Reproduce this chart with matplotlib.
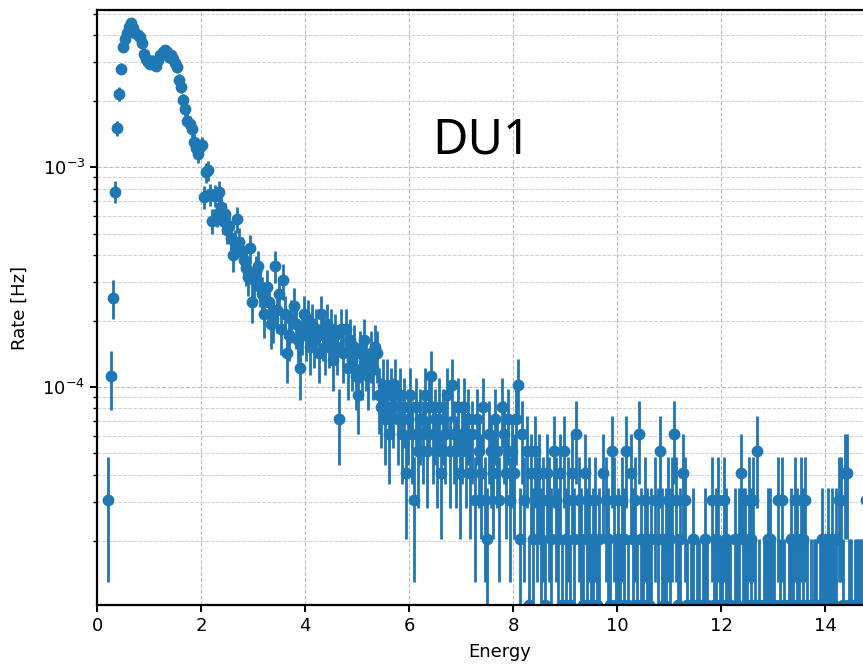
import numpy as np
import matplotlib
matplotlib.use("Agg")
import matplotlib.pyplot as plt

# energy binning (0.04 wide bins) and counts
bin_width = 0.04
bin_start = 0.0
# rate per count (1 / exposure) in Hz
rate_per_count = 1.02e-5

counts = [
    0, 0, 0, 0, 0,
    3, 11, 25, 76, 148,
    212, 276, 346, 378, 400,
    428, 443, 420, 402, 392,
    385, 360, 323, 305, 296,
    291, 300, 296, 285, 302,
    318, 328, 336, 330, 311,
    318, 305, 292, 280, 244,
    228, 198, 181, 160, 155,
    147, 128, 120, 113, 121,
    124, 72, 93, 95, 74,
    56, 73, 60, 76, 65,
    56, 60, 51, 53, 47,
    39, 44, 57, 45, 41,
    37, 34, 31, 42, 24,
    30, 33, 35, 28, 26,
    21, 28, 24, 19, 20,
    35, 22, 26, 18, 30,
    21, 14, 17, 20, 23,
    19, 16, 12, 18, 21,
    17, 20, 15, 19, 16,
    18, 14, 21, 17, 15,
    19, 16, 18, 13, 17,
    15, 7, 18, 14, 18,
    12, 16, 13, 15, 11,
    9, 14, 12, 16, 13,
    11, 14, 12, 15, 14,
    9, 8, 10, 7, 10,
    6, 9, 8, 10, 7,
    9, 6, 8, 4, 7,
    9, 6, 3, 8, 5,
    7, 6, 9, 5, 8,
    11, 6, 7, 5, 8,
    4, 7, 6, 9, 5,
    10, 6, 5, 8, 4,
    6, 8, 5, 7, 4,
    6, 3, 7, 5, 4,
    8, 3, 2, 6, 5,
    4, 7, 5, 3, 8,
    6, 4, 7, 3, 5,
    4, 7, 10, 2, 6,
    3, 5, 1, 4, 2,
    5, 3, 4, 2, 3,
    1, 4, 3, 2, 5,
    3, 2, 4, 1, 5,
    2, 3, 1, 4, 2,
    6, 3, 2, 1, 4,
    2, 3, 1, 2, 3,
    1, 2, 0, 4, 3,
    2, 1, 5, 3, 1,
    2, 1, 3, 2, 5,
    1, 4, 2, 3, 1,
    6, 2, 1, 3, 2,
    1, 2, 0, 3, 2,
    5, 2, 1, 2, 3,
    2, 3, 6, 3, 1,
    2, 4, 3, 1, 0,
    1, 2, 0, 1, 1,
    0, 1, 2, 1, 0,
    3, 1, 2, 3, 1,
    1, 3, 2, 1, 1,
    0, 2, 1, 2, 4,
    2, 2, 1, 3, 2,
    3, 1, 5, 1, 0,
    1, 1, 2, 2, 1,
    1, 0, 3, 1, 3,
    1, 0, 1, 2, 1,
    3, 2, 1, 3, 2,
    3, 1, 0, 1, 1,
    1, 0, 1, 2, 1,
    1, 2, 1, 2, 1,
    2, 3, 3, 1, 4,
    4, 1, 1, 0, 1,
    1, 1, 1, 1, 3,
    1, 2, 1, 0, 1,
    2, 1, 1, 1, 0, 2, 1, 1, 3, 1, 1, 2, 1,
]

detector_label = "DU1"

counts = np.array(counts, dtype=float)
edges = bin_start + bin_width * np.arange(len(counts) + 1)
energy = 0.5 * (edges[:-1] + edges[1:])

# empty bins have no place on a log axis
keep = counts > 0
rate = counts[keep] * rate_per_count
rate_err = np.sqrt(counts[keep]) * rate_per_count

W, H = 863, 665
fig = plt.figure(figsize=(W / 100, H / 100), dpi=100)
x_max = 15.5
px_per_unit = 52.0
# axes runs past the right edge of the figure, as in the cropped original
ax = fig.add_axes([97 / W, 60 / H, x_max * px_per_unit / W, 595 / H])

ax.errorbar(energy[keep], rate, yerr=rate_err, fmt="o", color="#1f77b4",
            markersize=7.5, elinewidth=2.0, capsize=0)

ax.set_yscale("log")
ax.set_xlim(0, x_max)
ax.set_ylim(rate_per_count, 5.2e-3)
ax.set_xticks(np.arange(0, 16, 2))

ax.grid(True, which="major", linestyle="--", color="#bdbdbd", linewidth=0.8)
ax.grid(True, which="minor", axis="y", linestyle="--", color="#cfcfcf", linewidth=0.7)
ax.set_axisbelow(True)

for side in ("left", "bottom", "top"):
    ax.spines[side].set_linewidth(1.6)
ax.tick_params(which="major", labelsize=13, width=1.4, length=5)
ax.tick_params(which="minor", width=1.0, length=3)

ax.set_xlabel("Energy", fontsize=13, labelpad=6)
ax.set_ylabel("Rate [Hz]", fontsize=13, labelpad=10)

fig.text(482 / W, 1 - 140 / H, detector_label, fontsize=35,
         family=["Noto Sans", "DejaVu Sans"], ha="center", va="center")

fig.savefig("out.png", dpi=100)
